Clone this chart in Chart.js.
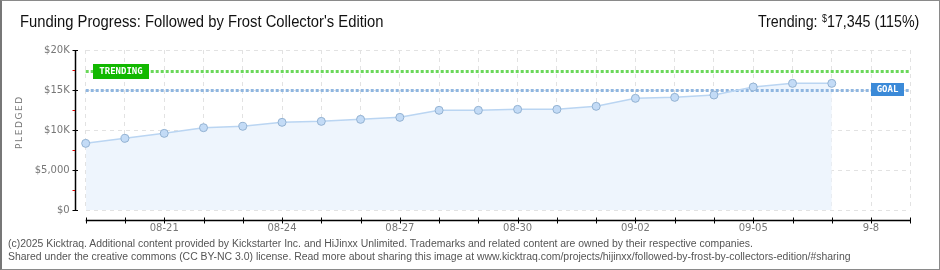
<!doctype html>
<html lang="en">
  <head>
    <meta charset="UTF-8" />
    <title>Funding Progress: Followed by Frost Collector's Edition</title>
    <script src="https://cdn.jsdelivr.net/npm/chart.js"></script>
    <style>
      body {
        margin: 0;
        background: #fff;
      }
      .wrap {
        position: relative;
        width: 940px;
        height: 270px;
        overflow: hidden;
        font-family: "Liberation Sans", sans-serif;
      }
      .frame {
        position: absolute;
        left: 0;
        top: 0;
        width: 940px;
        height: 270px;
        box-sizing: border-box;
        border: 1px solid #8a8a8a;
        border-left: 2px solid #777;
        pointer-events: none;
      }
      canvas {
        position: absolute;
        left: 0;
        top: 0;
      }
      .title {
        position: absolute;
        left: 20px;
        top: 13px;
        font-size: 16px;
        color: #111;
        white-space: nowrap;
        transform: scaleX(0.924);
        transform-origin: left center;
      }
      .trend {
        position: absolute;
        right: 21px;
        top: 13px;
        font-size: 16px;
        color: #111;
        white-space: nowrap;
        transform: scaleX(0.89);
        transform-origin: right center;
      }
      .trend sup {
        font-size: 10px;
        vertical-align: 5px;
        margin-left: 5px;
      }
      .pledged {
        position: absolute;
        left: -1px;
        top: 124px;
        width: 40px;
        text-align: center;
        transform: rotate(-90deg);
        font: 9px "DejaVu Sans", sans-serif;
        letter-spacing: 1.6px;
        color: #777;
      }
      .footer {
        position: absolute;
        left: 8px;
        top: 237px;
        font: 10.45px "Liberation Sans", sans-serif;
        line-height: 13px;
        color: #555;
        white-space: nowrap;
      }
    </style>
  </head>
  <body>
    <div class="wrap">
      <canvas id="fundingChart" width="940" height="270"></canvas>
      <div class="title">Funding Progress: Followed by Frost Collector's Edition</div>
      <div class="trend">Trending:<sup>$</sup>17,345 (115%)</div>
      <div class="pledged">PLEDGED</div>
      <div class="footer">
        (c)2025 Kicktraq. Additional content provided by Kickstarter Inc. and HiJinxx Unlimited. Trademarks and related content are owned by their respective companies.<br />
        Shared under the creative commons (CC BY-NC 3.0) license. Read more about sharing this image at www.kicktraq.com/projects/hijinxx/followed-by-frost-by-collectors-edition/#sharing
      </div>
      <div class="frame"></div>
    </div>

    <script>
      // Data
      const days = [
        "08-19", "08-20", "08-21", "08-22", "08-23", "08-24", "08-25", "08-26",
        "08-27", "08-28", "08-29", "08-30", "08-31", "09-01", "09-02", "09-03",
        "09-04", "09-05", "09-06", "09-07", "09-08", "09-09",
      ];
      const tickLabels = [
        "", "", "08-21", "", "", "08-24", "", "", "08-27", "", "", "08-30",
        "", "", "09-02", "", "", "09-05", "", "", "9-8", "",
      ];
      const pledged = [
        8330, 8960, 9580, 10290, 10460, 10960, 11080, 11330, 11580, 12460,
        12460, 12580, 12580, 12960, 13960, 14080, 14375, 15375, 15830, 15830,
      ];
      const yTicks = [0, 5000, 10000, 15000, 20000];
      const yTickLabels = ["$0", "$5,000", "$10K", "$15K", "$20K"];
      const yMinorTicks = [2500, 7500, 12500, 17500];
      const goal = 15000;
      const trending = 17345;

      // Axes, goal/trending lines and their tags
      const kicktraqPlugin = {
        id: "kicktraq",
        beforeDatasetsDraw(chart) {
          const { ctx, chartArea, scales } = chart;
          ctx.save();
          ctx.lineWidth = 3;
          ctx.setLineDash([3, 2]);
          ctx.strokeStyle = "#6ad85a";
          let y = Math.round(scales.y.getPixelForValue(trending)) + 0.5;
          ctx.beginPath();
          ctx.moveTo(chartArea.left, y);
          ctx.lineTo(chartArea.right, y);
          ctx.stroke();
          ctx.strokeStyle = "#8fb6e0";
          y = Math.round(scales.y.getPixelForValue(goal)) + 0.5;
          ctx.beginPath();
          ctx.moveTo(chartArea.left, y);
          ctx.lineTo(chartArea.right, y);
          ctx.stroke();
          ctx.restore();
        },
        afterDatasetsDraw(chart) {
          const { ctx, scales } = chart;
          const x = scales.x;
          const yS = scales.y;
          ctx.save();

          // y axis
          const ax = 75.5;
          ctx.strokeStyle = "#000";
          ctx.lineWidth = 1.5;
          ctx.beginPath();
          ctx.moveTo(ax, yS.getPixelForValue(20000));
          ctx.lineTo(ax, yS.getPixelForValue(0));
          ctx.stroke();
          ctx.lineWidth = 1;
          yTicks.forEach((v) => {
            const py = Math.round(yS.getPixelForValue(v)) + 0.5;
            ctx.beginPath();
            ctx.moveTo(72.5, py);
            ctx.lineTo(78, py);
            ctx.stroke();
          });
          ctx.strokeStyle = "#e00000";
          yMinorTicks.forEach((v) => {
            const py = Math.round(yS.getPixelForValue(v)) + 0.5;
            ctx.beginPath();
            ctx.moveTo(72.5, py);
            ctx.lineTo(75, py);
            ctx.stroke();
          });

          // x axis
          const ay = 220.5;
          ctx.strokeStyle = "#000";
          ctx.lineWidth = 1.5;
          ctx.beginPath();
          ctx.moveTo(x.getPixelForValue(0), ay);
          ctx.lineTo(x.getPixelForValue(days.length - 1), ay);
          ctx.stroke();
          ctx.lineWidth = 1;
          days.forEach((d, i) => {
            const px = Math.round(x.getPixelForValue(i)) + 0.5;
            ctx.beginPath();
            ctx.moveTo(px, 217.5);
            ctx.lineTo(px, 223.5);
            ctx.stroke();
          });

          // tags
          ctx.font = "bold 9px 'DejaVu Sans Mono', monospace";
          ctx.textBaseline = "middle";
          ctx.textAlign = "center";
          const ty = yS.getPixelForValue(trending);
          ctx.fillStyle = "#12b800";
          ctx.fillRect(93, Math.round(ty) - 7, 56, 15);
          ctx.fillStyle = "#fff";
          ctx.fillText("TRENDING", 121, Math.round(ty) + 0.5);
          const gy = yS.getPixelForValue(goal);
          ctx.fillStyle = "#3b8ad8";
          ctx.fillRect(871, Math.round(gy) - 7, 33, 13);
          ctx.fillStyle = "#fff";
          ctx.fillText("GOAL", 887.5, Math.round(gy) - 0.5);
          ctx.restore();
        },
      };

      const ctx = document.getElementById("fundingChart").getContext("2d");
      const fundingChart = new Chart(ctx, {
        type: "line",
        data: {
          labels: days,
          datasets: [
            {
              label: "Pledged",
              data: pledged,
              borderColor: "#bad5f2",
              borderWidth: 1.5,
              backgroundColor: "#eef5fd",
              fill: "origin",
              tension: 0,
              pointRadius: 4,
              pointHoverRadius: 4,
              pointBackgroundColor: "#c3dbf6",
              pointBorderColor: "#93b2d2",
              pointBorderWidth: 1,
            },
          ],
        },
        options: {
          responsive: false,
          animation: false,
          layout: { padding: { left: 0, right: 29.7, top: 50, bottom: 0 } },
          plugins: {
            legend: { display: false },
            tooltip: { enabled: false },
            filler: { drawTime: "beforeDatasetsDraw" },
          },
          scales: {
            x: {
              type: "category",
              offset: false,
              afterFit: (s) => {
                s.height = 60;
              },
              grid: { color: "#e2e2e2", drawTicks: false, tickLength: 0 },
              border: { display: false, dash: [4, 4] },
              ticks: {
                autoSkip: false,
                maxRotation: 0,
                padding: 12,
                color: "#777",
                font: { family: "DejaVu Sans", size: 10 },
                callback: (v, i) => tickLabels[i],
              },
            },
            y: {
              min: 0,
              max: 20000,
              afterFit: (s) => {
                s.width = 85.7;
              },
              afterBuildTicks: (s) => {
                s.ticks = yTicks.map((v) => ({ value: v }));
              },
              grid: { color: "#e2e2e2", drawTicks: false, tickLength: 0 },
              border: { display: false, dash: [4, 4] },
              ticks: {
                padding: 16,
                color: "#777",
                font: { family: "DejaVu Sans", size: 10 },
                callback: (v, i) => yTickLabels[i],
              },
            },
          },
        },
        plugins: [kicktraqPlugin],
      });
    </script>
  </body>
</html>
